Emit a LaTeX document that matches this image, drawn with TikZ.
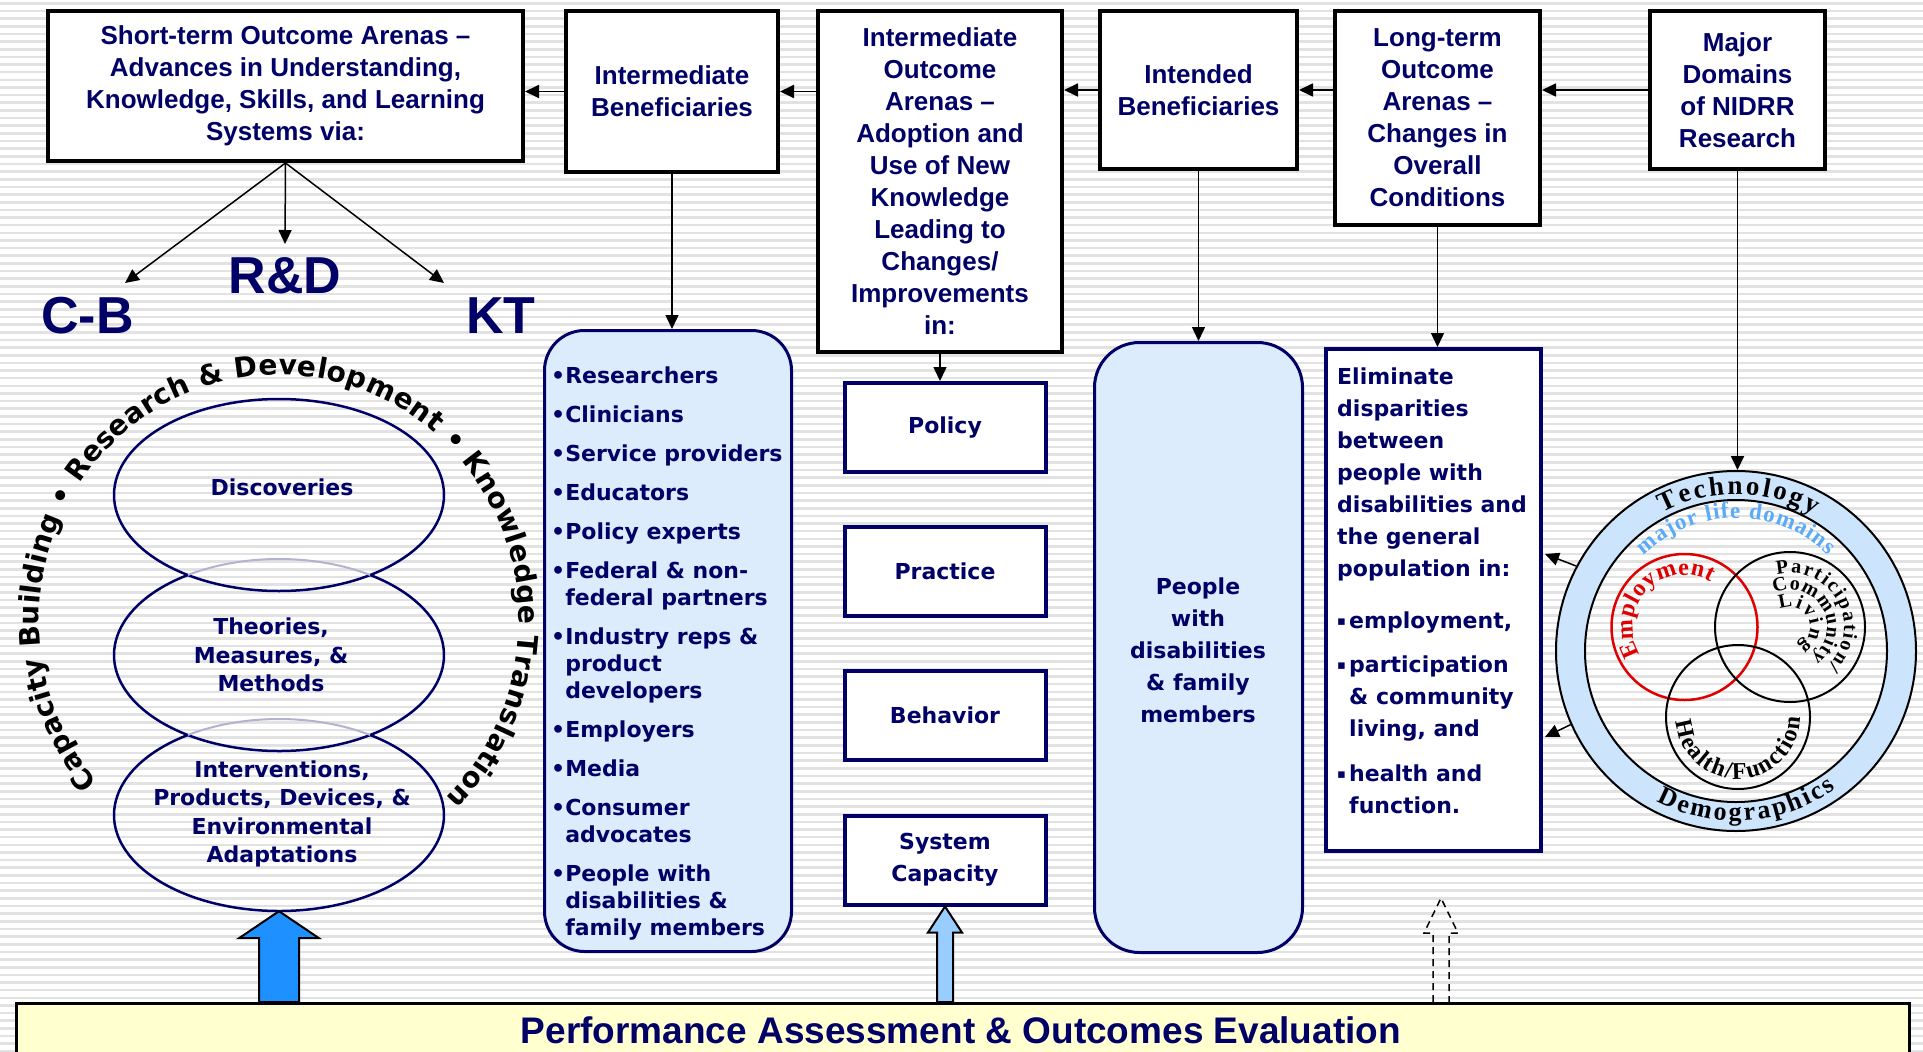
\documentclass[tikz,border=0pt]{standalone}
\usepackage{fontspec}
\setmainfont{Liberation Sans}
\newfontfamily\dvfont{DejaVu Sans}
\newfontfamily\tmsfont{Liberation Serif}
\usetikzlibrary{arrows.meta,shapes.geometric,decorations.text,calc}

\definecolor{navytxt}{RGB}{0,0,102}
\definecolor{stripecol}{RGB}{226,226,226}
\definecolor{listfill}{RGB}{221,236,253}
\definecolor{ringblue}{RGB}{204,228,252}
\definecolor{mlblue}{RGB}{90,170,250}
\definecolor{bigblue}{RGB}{30,144,255}
\definecolor{ltblue}{RGB}{153,204,255}
\definecolor{barfill}{RGB}{255,255,208}
\definecolor{empred}{RGB}{225,0,0}

\newcommand\capArcFont{\dvfont\bfseries\fontsize{28}{30}\selectfont}
\newcommand\techArcFont{\tmsfont\bfseries\fontsize{27}{30}\selectfont}
\newcommand\demoArcFont{\tmsfont\bfseries\fontsize{26}{30}\selectfont}
\newcommand\mlArcFont{\tmsfont\bfseries\fontsize{23}{26}\selectfont}
\newcommand\vennArcFont{\tmsfont\bfseries\fontsize{24}{26}\selectfont}
\newcommand\vennSmallFont{\tmsfont\bfseries\fontsize{20}{22}\selectfont}
\newcommand\sqbul{\makebox[12pt][l]{\raisebox{3pt}{\fontsize{13}{13}\selectfont ▪}}}
\newcommand\sqind{\hspace*{12pt}}

\tikzset{
  topbox/.style={draw=black, line width=4pt, fill=white, text=navytxt, align=center,
    font=\bfseries\fontsize{26}{32}\selectfont, inner sep=0pt},
  navybox/.style={draw=navytxt, line width=4pt, fill=white, text=navytxt, align=center,
    font=\dvfont\bfseries\fontsize{22}{32}\selectfont, inner sep=0pt},
  roundbox/.style={draw=navytxt, line width=3pt, fill=listfill, inner sep=0pt},
  arr/.style={-{Triangle[length=14pt,width=13pt]}, line width=1.8pt, draw=black},
  bigletters/.style={text=navytxt, font=\bfseries\fontsize{52}{56}\selectfont, inner sep=0pt},
  bodytxt/.style={text=navytxt, font=\dvfont\bfseries\fontsize{22}{27}\selectfont, inner sep=0pt},
  elltxt/.style={text=navytxt, align=center, font=\dvfont\bfseries\fontsize{22}{28.5}\selectfont, inner sep=0pt},
  ellshape/.style={ellipse, minimum width=330pt, minimum height=192pt, inner sep=0pt},
  ellline/.style={draw=navytxt, line width=2.5pt},
  faintline/.style={draw=navytxt!30, line width=2pt},
  vennc/.style={circle, draw=black, line width=2pt, inner sep=0pt},
}

\begin{document}
\begin{tikzpicture}[x=1pt,y=1pt]
\useasboundingbox (0,0) rectangle (1923,-1052);
\fill[white] (0,0) rectangle (1923,-1052);
\foreach \i in {0,...,137}{\fill[stripecol] (0,{-7.65*\i-2}) rectangle (1923,{-7.65*\i-4.6});}

% ---------- top row ----------
\node[topbox, minimum width=475pt, minimum height=150pt] (st) at (285.5,-86)
  {Short-term Outcome Arenas --\\Advances in Understanding,\\Knowledge, Skills, and Learning\\Systems via:};
\node[topbox, minimum width=212pt, minimum height=161pt] (ib) at (672,-91.5)
  {Intermediate\\Beneficiaries};
\node[topbox, minimum width=244pt, minimum height=341pt] (io) at (940,-181.5)
  {Intermediate\\Outcome\\Arenas --\\Adoption and\\Use of New\\Knowledge\\Leading to\\Changes/\\Improvements\\in:};
\node[topbox, minimum width=197pt, minimum height=158pt] (intb) at (1198.5,-90)
  {Intended\\Beneficiaries};
\node[topbox, minimum width=205pt, minimum height=214pt] (lt) at (1437.5,-118)
  {Long-term\\Outcome\\Arenas --\\Changes in\\Overall\\Conditions};
\node[topbox, minimum width=175pt, minimum height=158pt] (md) at (1737.5,-90)
  {Major\\Domains\\of NIDRR\\Research};

\draw[arr] (ib.west) -- (ib.west -| st.east);
\draw[arr] (io.west |- ib.west) -- (ib.east);
\draw[arr] (intb.west) -- (intb.west -| io.east);
\draw[arr] (lt.west |- intb.west) -- (intb.east);
\draw[arr] (md.west) -- (md.west -| lt.east);

% ---------- C-B / R&D / KT ----------
\node[bigletters] (cb) at (87.5,-316) {C-B};
\node[bigletters] (rd) at (285,-276) {R\&D};
\node[bigletters] (kt) at (501,-316) {KT};
\coordinate (cbtip) at (125,-283);
\coordinate (rdtip) at (285,-244);
\coordinate (kttip) at (444,-283);
\draw[arr, line width=1.5pt] (st.south) -- (cbtip);
\draw[arr, line width=1.5pt] (st.south) -- (rdtip);
\draw[arr, line width=1.5pt] (st.south) -- (kttip);

% ---------- ellipses ----------
\node[ellshape] (e1) at (279,-495) {};
\node[ellshape] (e2) at (279,-655) {};
\node[ellshape] (e3) at (279,-815) {};
\draw[ellline] (e1) ellipse [x radius=165, y radius=96];
\draw[faintline] ($(e2.center)+(56.44:165 and 96)$) arc[start angle=56.44, end angle=123.56, x radius=165, y radius=96];
\draw[ellline] ($(e2.center)+(123.56:165 and 96)$) arc[start angle=123.56, end angle=416.44, x radius=165, y radius=96];
\draw[faintline] ($(e3.center)+(56.44:165 and 96)$) arc[start angle=56.44, end angle=123.56, x radius=165, y radius=96];
\draw[ellline] ($(e3.center)+(123.56:165 and 96)$) arc[start angle=123.56, end angle=416.44, x radius=165, y radius=96];
\node[elltxt] (t1) at (282,-487) {Discoveries};
\node[elltxt] (t2) at (271,-655) {Theories,\\Measures, \&\\Methods};
\node[elltxt] (t3) at (282,-814) {Interventions,\\Products, Devices, \&\\Environmental\\Adaptations};

\coordinate (arcc) at (279,-622);
\path[decorate, decoration={text along path, text align={fit to path},
  text={|\capArcFont|Capacity Building • Research {\&} Development • Knowledge Translation}}]
  ($(arcc)+(221:240 and 244)$) arc[start angle=221, end angle=-46, x radius=240, y radius=246];

% ---------- intermediate beneficiaries list ----------
\node[roundbox, rounded corners=40pt, minimum width=247pt, minimum height=621pt] (ibl) at (668,-641) {};
\node[bodytxt, anchor=north west, align=left] (ibltxt) at (551,-367)
 {•Researchers\\[12pt]•Clinicians\\[12pt]•Service providers\\[12pt]•Educators\\[12pt]•Policy experts\\[12pt]%
  •Federal \& non-\\\hphantom{•}federal partners\\[12pt]•Industry reps \&\\\hphantom{•}product\\\hphantom{•}developers\\[12pt]%
  •Employers\\[12pt]•Media\\[12pt]•Consumer\\\hphantom{•}advocates\\[12pt]•People with\\\hphantom{•}disabilities \&\\\hphantom{•}family members};
\draw[arr, line width=1.5pt] (ib.south) -- (ib.south |- ibl.north);

% ---------- policy column ----------
\node[navybox, minimum width=201pt, minimum height=89pt] (pol) at (945,-427.5) {Policy};
\node[navybox, minimum width=201pt, minimum height=89pt] (pra) at (945,-571.5) {Practice};
\node[navybox, minimum width=201pt, minimum height=89pt] (beh) at (945,-715.5) {Behavior};
\node[navybox, minimum width=201pt, minimum height=89pt] (sys) at (945,-860) {System\\Capacity};
\draw[arr, line width=1.5pt] (io.south) -- (io.south |- pol.north);

% ---------- people box ----------
\node[roundbox, rounded corners=45pt, minimum width=208pt, minimum height=610pt] (pwd) at (1198.5,-647.5) {};
\node[bodytxt, align=center, font=\dvfont\bfseries\fontsize{22}{32}\selectfont] (pwdtxt) at (1198,-650)
  {People\\with\\disabilities\\\& family\\members};
\draw[arr, line width=1.5pt] (intb.south) -- (intb.south |- pwd.north);

% ---------- eliminate box ----------
\node[navybox, minimum width=215pt, minimum height=502pt] (elim) at (1433.5,-600) {};
\node[bodytxt, anchor=north west, align=left, font=\dvfont\bfseries\fontsize{22}{32}\selectfont] (elimtxt) at (1337,-368)
  {Eliminate\\disparities\\between\\people with\\disabilities and\\the general\\population in:\\[20pt]%
   \sqbul employment,\\[12pt]\sqbul participation\\\sqind\& community\\\sqind living, and\\[13pt]\sqbul health and\\\sqind function.};
\draw[arr, line width=1.5pt] (lt.south) -- (lt.south |- elim.north);

% ---------- domains circle ----------
\coordinate (cc) at (1736,-651);
\fill[ringblue, even odd rule] (cc) circle (180) (cc) circle (151);
\node[vennc, minimum size=360pt] (ring) at (cc) {};
\node[vennc, minimum size=302pt] (ringin) at (cc) {};
\node[vennc, draw=empred, line width=2.5pt, minimum size=146pt] (emp) at (1684.5,-627) {};
\node[vennc, minimum size=150pt] (par) at (1790,-627) {};
\node[vennc, minimum size=144pt] (hf) at (1738,-717) {};

\path[decorate, decoration={text along path, text align={fit to path}, text={|\techArcFont|Technology}}]
  ($(cc)+(118:157)$) arc[start angle=118, end angle=60, radius=157];
\path[decorate, decoration={text along path, text align={fit to path}, text={|\demoArcFont|Demographics}}]
  ($(cc)+(242:170)$) arc[start angle=242, end angle=306, radius=170];
\path[decorate, decoration={text along path, text align={fit to path}, text color=mlblue, text={|\mlArcFont|major life domains}}]
  ($(cc)+(134:133)$) arc[start angle=134, end angle=46, radius=133];
\path[decorate, decoration={text along path, text align={fit to path}, text color=empred, text={|\vennArcFont|Employment}}]
  ($(emp.center)+(212:52)$) arc[start angle=212, end angle=60, radius=52];
\path[decorate, decoration={text along path, text align={fit to path}, text={|\vennSmallFont|Participation/}}]
  ($(par.center)+(104:54)$) arc[start angle=104, end angle=-46, radius=54];
\path[decorate, decoration={text along path, text align={fit to path}, text={|\vennSmallFont|Community}}]
  ($(par.center)+(115:37)$) arc[start angle=115, end angle=-55, radius=37];
\path[decorate, decoration={text along path, text align={fit to path}, text={|\vennSmallFont|Living}}]
  ($(par.center)+(120:20)$) arc[start angle=120, end angle=-66, radius=20];
\path[decorate, decoration={text along path, text align={fit to path}, text={|\vennArcFont|Health/Function}}]
  ($(hf.center)+(184:62)$) arc[start angle=184, end angle=360, radius=62];

\draw[arr] (md.south) -- (md.south |- ring.north);
\coordinate (el1) at (1545,-554);
\coordinate (el2) at (1545,-737);
\draw[arr, line width=1.5pt] (ring.152) -- (el1);
\draw[arr, line width=1.5pt] (ring.204) -- (el2);

% ---------- bottom bar ----------
\node[draw=black, line width=3pt, fill=barfill, minimum width=1893pt, minimum height=100pt,
  anchor=north west, inner sep=0pt] (pae) at (15,-1002) {};
\node[text=navytxt, font=\bfseries\fontsize{37}{40}\selectfont, anchor=base, inner sep=0pt] (paetxt) at (961,-1043)
  {Performance Assessment \& Outcomes Evaluation};

% big blue arrow
\draw[fill=bigblue, line width=2pt, line join=miter] (e3.south) -- ++(-40,-27) -- ++(20,0)
  -- ($(e3.south |- pae.north)+(-20,0)$) -- ($(e3.south |- pae.north)+(20,0)$)
  -- ($(e3.south)+(20,-27)$) -- ++(20,0) -- cycle;
% light blue arrow
\draw[fill=ltblue, line width=2pt, line join=miter] (sys.south) -- ++(-17,-26) -- ++(9,0)
  -- ($(sys.south |- pae.north)+(-8,0)$) -- ($(sys.south |- pae.north)+(8,0)$)
  -- ($(sys.south)+(8,-26)$) -- ++(9,0) -- cycle;
% dashed outline arrow
\coordinate (dtip) at (1441,-898);
\draw[dash pattern=on 7pt off 5pt, line width=1.5pt]
  ($(dtip |- pae.north)+(-8,0)$) -- ($(dtip)+(-8,-35)$) -- ($(dtip)+(-17,-35)$) -- (dtip)
  -- ($(dtip)+(17,-35)$) -- ($(dtip)+(8,-35)$) -- ($(dtip |- pae.north)+(8,0)$);
\end{tikzpicture}
\end{document}
